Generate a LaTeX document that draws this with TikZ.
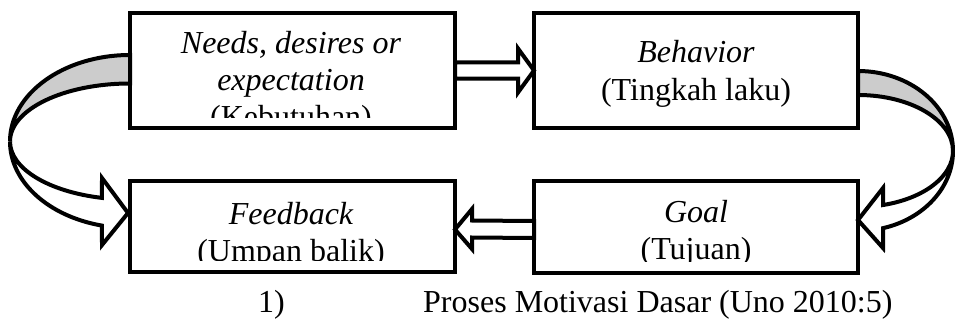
\documentclass[tikz,border=0pt]{standalone}
\usepackage{fontspec}
\setmainfont{Liberation Serif}
\usetikzlibrary{calc}
\pgfdeclarelayer{bg}
\pgfsetlayers{bg,main}
\begin{document}
\begin{tikzpicture}[x=1pt,y=1pt,
  box/.style={draw, line width=4.5pt, inner sep=0pt, outer sep=0pt},
  lbl/.style={anchor=base, inner sep=0pt, font=\fontsize{32}{37}\selectfont},
  blk/.style={draw, line width=4pt, fill=white, line join=miter, miter limit=10},
  fold/.style={draw, line width=4pt, fill=black!20, line join=miter, miter limit=10}]
\useasboundingbox (0,0) rectangle (955,-321);

% boxes
\node[box, minimum width=325pt, minimum height=115pt] (needs) at (292.5,-70.5) {};
\node[box, minimum width=324pt, minimum height=115pt] (behavior) at (696,-70.5) {};
\node[box, minimum width=325pt, minimum height=91pt] (feedback) at (292.5,-226.5) {};
\node[box, minimum width=324pt, minimum height=92pt] (goal) at (696,-227) {};

\coordinate (lc) at ($(needs.west)+(0,-71)$);
\coordinate (rc) at ($(behavior.east)+(0,-80.5)$);

\begin{pgfonlayer}{bg}
% needs -> behavior
\path[blk] ($(needs.east)+(0,8)$) -- ($(behavior.west)+(-16,8)$) -- ($(behavior.west)+(-16,22)$)
  -- (behavior.west) -- ($(behavior.west)+(-16,-22)$) -- ($(behavior.west)+(-16,-8)$)
  -- ($(needs.east)+(0,-8)$) -- cycle;
% goal -> feedback
\path[blk] ($(goal.west)+(0,6)$) -- ($(feedback.east)+(17,6)$) -- ($(feedback.east)+(17,17.5)$)
  -- ($(feedback.east)+(0,-3)$) -- ($(feedback.east)+(17,-22.5)$) -- ($(feedback.east)+(17,-11)$)
  -- ($(goal.west)+(0,-11)$) -- cycle;
% needs -> feedback (curved, left)
\path[blk] ($(lc)+(-120,0)$) arc[start angle=180,end angle=256.5,x radius=120,y radius=86.5]
  -- ($(lc)+(-28,-103.5)$) -- ($(feedback.west)+(-2,13.5)$) -- ($(lc)+(-28,-36.5)$)
  -- ($(lc)+(256.5:120 and 58)$) arc[start angle=256.5,end angle=180,x radius=120,y radius=58] -- cycle;
\path[fold] ($(lc)+(0,86.5)$) arc[start angle=90,end angle=180,x radius=120,y radius=86.5]
  arc[start angle=180,end angle=90,x radius=120,y radius=58] -- cycle;
% behavior -> goal (curved, right)
\path[blk] ($(rc)+(95,0)$) arc[start angle=360,end angle=285.3,x radius=95,y radius=80]
  -- ($(rc)+(25,-97)$) -- ($(goal.east)+(0,7)$) -- ($(rc)+(25,-37)$)
  -- ($(rc)+(285.3:95 and 56)$) arc[start angle=285.3,end angle=360,x radius=95,y radius=56] -- cycle;
\path[fold] ($(rc)+(0,80)$) arc[start angle=90,end angle=0,x radius=95,y radius=80]
  arc[start angle=0,end angle=90,x radius=95,y radius=56] -- cycle;
\end{pgfonlayer}

% texts
\begin{scope}
\clip (needs.north west) rectangle ($(needs.south east)+(0,11)$);
\node[lbl] (n1) at (291,-53) {\itshape Needs, desires or};
\node[lbl] (n2) at (291,-90) {\itshape expectation};
\node[lbl] (n3) at (291,-127) {(Kebutuhan)};
\end{scope}
\node[lbl] (b1) at (696,-63) {\itshape Behavior};
\node[lbl] (b2) at (696,-100) {(Tingkah laku)};
\begin{scope}
\clip (feedback.north west) rectangle ($(feedback.south east)+(0,12)$);
\node[lbl] (f1) at (291,-224) {\itshape Feedback};
\node[lbl] (f2) at (291,-261) {(Umpan balik)};
\end{scope}
\begin{scope}
\clip (goal.north west) rectangle ($(goal.south east)+(0,12)$);
\node[lbl] (g1) at (696,-222) {\itshape Goal};
\node[lbl] (g2) at (696,-259) {(Tujuan)};
\end{scope}

% caption
\node[lbl, anchor=base west] (c1) at (258,-312) {1)};
\node[lbl, anchor=base west] (c2) at (423,-312) {Proses Motivasi Dasar (Uno 2010:5)};
\end{tikzpicture}
\end{document}
